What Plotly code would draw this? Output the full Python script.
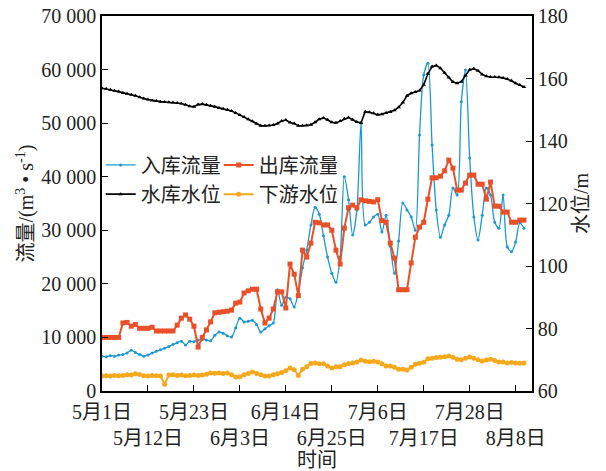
import pandas as pd
import plotly.graph_objects as go

# Daily series, 1 May to 10 Aug
dates = pd.date_range("2020-05-01", periods=102, freq="D")

inflow = [
    6500, 6400, 6600, 6500, 6700, 6800, 7100, 7600, 7200, 6800,
    6500, 6700, 7100, 7400, 7700, 8000, 8300, 8700, 9000, 9300,
    8600, 9300, 9200, 9500, 9600, 9500, 9400, 10400, 11000, 10800,
    10300, 10100, 11800, 13600, 12900, 13000, 13200, 12400, 11000, 11600,
    12200, 12700, 18900, 16000, 17500, 17200, 15700, 18500, 23000, 26300,
    31000, 34300, 33000, 29000, 25000, 22000, 20300, 25000, 40000, 35700,
    29100, 33800, 50000, 31000, 31500, 32500, 33000, 29700, 32800, 27000,
    22000, 28000, 35100, 33800, 32500, 30000, 47800, 59000, 61200, 45900,
    33800, 28700, 31000, 32800, 37900, 36600, 54000, 59900, 43500, 32500,
    28200, 32800, 37900, 36600, 31500, 30400, 36600, 26900, 26000, 27800,
    31400, 30400,
]

outflow = [
    10000, 10000, 10000, 10000, 10000, 12700, 12800, 12100, 12400, 11700,
    11700, 11700, 11900, 11200, 11200, 11200, 11200, 11200, 12300, 13600,
    14200, 13400, 12100, 8200, 10000, 11400, 12900, 14600, 14700, 14800,
    14900, 15100, 16400, 16600, 18300, 18700, 19000, 19000, 15300, 12700,
    13600, 15300, 18500, 18500, 15500, 23700, 21800, 17800, 26300, 25000,
    27600, 31500, 31400, 31000, 31000, 30000, 26300, 23700, 30400, 34200,
    34700, 34200, 35700, 35500, 35400, 35300, 35700, 31800, 31500, 27600,
    24800, 18900, 18900, 18900, 23900, 28700, 30600, 31500, 35800, 39800,
    39800, 40100, 41100, 43100, 41600, 37500, 37500, 38800, 40300, 40300,
    38600, 38600, 35800, 39000, 34500, 34500, 33400, 33400, 31500, 31500,
    31900, 31900,
]

reservoir_level = [
    156.9, 156.7, 156.4, 156.1, 155.8, 155.4, 155.1, 154.8, 154.5, 154.0,
    153.6, 153.3, 153.0, 152.8, 152.6, 152.5, 152.4, 152.3, 152.2, 152.0,
    151.6, 151.1, 151.0, 151.7, 151.8, 151.6, 151.3, 151.0, 150.6, 150.3,
    150.0, 149.6, 149.0, 148.3, 147.7, 147.0, 146.3, 145.5, 144.9, 144.9,
    145.0, 145.1, 145.6, 146.4, 146.7, 145.9, 145.6, 144.9, 144.9, 145.0,
    145.2, 146.0, 147.0, 147.4, 146.8, 146.0, 145.8, 146.4, 147.1, 147.5,
    146.8, 146.1, 145.8, 149.4, 149.2, 148.9, 148.4, 148.6, 149.0, 149.3,
    149.8, 150.8, 152.3, 154.5, 155.3, 155.7, 156.2, 158.0, 161.5, 163.8,
    164.2, 163.3, 161.8, 160.3, 158.9, 158.5, 159.0, 161.0, 162.8, 163.1,
    162.5, 161.3, 160.7, 160.5, 160.5, 160.4, 160.2, 159.8, 159.3, 158.5,
    157.9, 157.3,
]

downstream_level = [
    64.8, 64.9, 64.8, 65.0, 64.9, 65.0, 65.2, 65.1, 65.5, 65.3,
    64.9, 64.8, 65.0, 64.9, 64.8, 62.2, 65.1, 65.2, 65.0, 65.1,
    64.9, 65.0, 65.1, 65.0, 65.1, 65.4, 65.8, 65.7, 65.8, 65.6,
    65.8, 65.2, 64.5, 64.6, 65.2, 65.6, 66.1, 65.6, 65.2, 64.8,
    64.8, 65.2, 65.5, 65.9, 66.5, 67.4, 66.8, 65.0, 67.0, 67.8,
    68.8, 69.0, 68.7, 68.7, 68.0, 67.4, 67.8, 67.8, 68.4, 68.8,
    69.0, 69.3, 69.9, 69.5, 69.4, 69.5, 69.3, 68.7, 68.0, 68.0,
    67.6, 67.0, 67.0, 66.7, 67.6, 68.6, 68.9, 69.2, 70.3, 70.5,
    70.7, 70.8, 71.0, 71.2, 70.8, 70.2, 70.0, 70.5, 70.9, 70.5,
    70.0, 69.6, 69.9, 70.2, 69.8, 69.3, 69.3, 69.0, 69.1, 69.0,
    68.9, 69.0,
]

x_tick_dates = ["2020-05-01", "2020-05-12", "2020-05-23", "2020-06-03", "2020-06-14",
                "2020-06-25", "2020-07-06", "2020-07-17", "2020-07-28", "2020-08-08"]
x_tick_names = ["5月1日", "5月12日", "5月23日", "6月3日", "6月14日",
                "6月25日", "7月6日", "7月17日", "7月28日", "8月8日"]
flow_ticks = [0, 10000, 20000, 30000, 40000, 50000, 60000, 70000]
flow_tick_names = ["0", "10 000", "20 000", "30 000", "40 000", "50 000", "60 000", "70 000"]
level_ticks = [60, 80, 100, 120, 140, 160, 180]

# alternate tick labels between two rows
x_tick_text = [t if i % 2 == 0 else "<br>" + t for i, t in enumerate(x_tick_names)]

FONT = "Liberation Serif, Times New Roman, Noto Sans CJK SC, serif"
FS = 20
TXT = "#222"
BLUE = "#1a98d5"
RED = "#e8502a"
YELLOW = "#f5a81c"

fig = go.Figure()
fig.add_trace(go.Scatter(
    x=dates, y=inflow, name="入库流量", mode="lines+markers",
    line=dict(color=BLUE, width=1.3, shape="spline", smoothing=0.8),
    marker=dict(symbol="circle", size=3, color=BLUE), legend="legend"))
fig.add_trace(go.Scatter(
    x=dates, y=outflow, name="出库流量", mode="lines+markers",
    line=dict(color=RED, width=2), marker=dict(symbol="square", size=5, color=RED),
    legend="legend"))
fig.add_trace(go.Scatter(
    x=dates, y=reservoir_level, name="水库水位", mode="lines+markers", yaxis="y2",
    line=dict(color="black", width=1.6),
    marker=dict(symbol="triangle-up", size=4, color="black"), legend="legend2"))
fig.add_trace(go.Scatter(
    x=dates, y=downstream_level, name="下游水位", mode="lines+markers", yaxis="y2",
    line=dict(color=YELLOW, width=2), marker=dict(symbol="circle", size=5, color=YELLOW),
    legend="legend2"))

axis_common = dict(showgrid=False, zeroline=False, showline=True, linecolor="black",
                   linewidth=1.5, ticks="inside", ticklen=6, tickwidth=1.2,
                   tickcolor="black", automargin=False,
                   tickfont=dict(family=FONT, size=FS, color=TXT))

legend_common = dict(orientation="h", xanchor="left", yanchor="middle",
                     bgcolor="rgba(0,0,0,0)", font=dict(family=FONT, size=FS, color=TXT),
                     itemwidth=30, entrywidth=73, entrywidthmode="pixels",
                     tracegroupgap=0)

fig.update_layout(
    width=606, height=471,
    margin=dict(l=102, r=74, t=16, b=80),
    paper_bgcolor="white", plot_bgcolor="white",
    font=dict(family=FONT, size=FS, color=TXT),
    xaxis=dict(type="date", range=["2020-05-01", "2020-08-11 22:00"],
               tickmode="array", tickvals=x_tick_dates, ticktext=x_tick_text,
               tickangle=0, mirror=True, ticklabelstandoff=2,
               title=dict(text="时间", font=dict(family=FONT, size=FS, color=TXT), standoff=0),
               **axis_common),
    yaxis=dict(range=[0, 70000], tickmode="array", tickvals=flow_ticks,
               ticktext=flow_tick_names,
               title=dict(text="流量/(m<sup>3</sup> • s<sup>-1</sup>)",
                          font=dict(family=FONT, size=FS, color=TXT), standoff=2),
               **axis_common),
    yaxis2=dict(range=[60, 180], tickmode="array", tickvals=level_ticks,
                overlaying="y", side="right",
                title=dict(text="水位/m", font=dict(family=FONT, size=FS, color=TXT),
                           standoff=7),
                **axis_common),
    legend=dict(x=-0.003, y=0.603, **legend_common),
    legend2=dict(x=-0.003, y=0.525, **legend_common),
)

fig.write_html("out.html")
